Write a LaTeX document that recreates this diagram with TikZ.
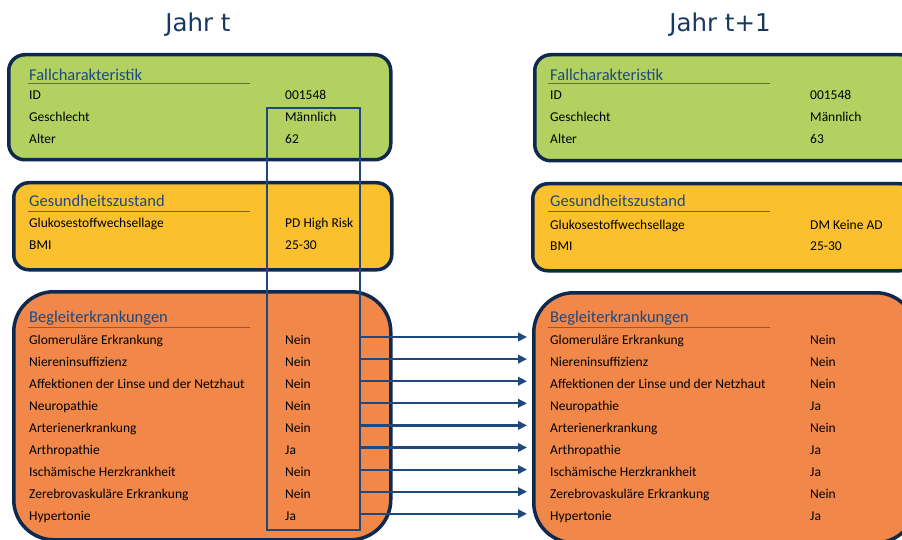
\documentclass[tikz,border=0pt]{standalone}
\usepackage{fontspec}
\setmainfont{Carlito}
\newfontfamily\titlefont{DejaVu Sans}
\usetikzlibrary{arrows.meta}

\definecolor{navy}{RGB}{14,40,78}
\definecolor{hlblue}{RGB}{31,73,125}
\definecolor{headblue}{RGB}{31,73,125}
\definecolor{titleblue}{RGB}{24,56,100}
\definecolor{fgreen}{RGB}{178,209,96}
\definecolor{fyellow}{RGB}{251,192,45}
\definecolor{forange}{RGB}{242,135,74}

\tikzset{
  panel/.style={draw=navy, line width=3.5pt, inner sep=0pt, anchor=north west},
  lbl/.style={anchor=base west, inner sep=0pt, font=\fontsize{13.5}{13.5}\selectfont},
  head/.style={anchor=base west, inner sep=0pt, text=headblue,
               font=\fontsize{16.5}{16.5}\selectfont},
  yeartitle/.style={anchor=base, inner sep=0pt, text=titleblue,
                    font=\titlefont\fontsize{24.5}{24.5}\selectfont},
  rule/.style={line width=1pt},
  arr/.style={draw=hlblue, line width=2.2pt, -{Triangle[length=9pt,width=8.5pt]}},
}

\begin{document}
\begin{tikzpicture}[x=1pt,y=-1pt]
\useasboundingbox (0,0) rectangle (902,540);
\clip (0,0) rectangle (902,540);

% year titles
\node[yeartitle] (tl) at (198,32) {Jahr t};
\node[yeartitle] (tr) at (720,32) {Jahr t+1};

% panels, year t
\node[panel, fill=fgreen, rounded corners=16pt, minimum width=382pt, minimum height=105pt] (gl) at (7,53) {};
\node[panel, fill=fyellow, rounded corners=15pt, minimum width=378pt, minimum height=87pt] (yl) at (12,181) {};
\node[panel, fill=forange, rounded corners=40pt, minimum width=377pt, minimum height=248pt] (ol) at (12,290) {};

% panels, year t+1
\node[panel, fill=fgreen, rounded corners=16pt, minimum width=382pt, minimum height=106pt] (gr) at (533,53) {};
\node[panel, fill=fyellow, rounded corners=15pt, minimum width=382pt, minimum height=87pt] (yr) at (531,182) {};
\node[panel, fill=forange, rounded corners=40pt, minimum width=382pt, minimum height=250pt] (or) at (532,291) {};

% section headings with their rules
\foreach \x/\ux in {29/28, 550/548} {
  \node[head] at (\x,81) {Fallcharakteristik};
  \draw[rule, draw=fgreen!55!black] (\ux,83.5) -- ++(222,0);
  \node[head] at (\x,207) {Gesundheitszustand};
  \draw[rule, draw=fyellow!50!black] (\ux,211.5) -- ++(222,0);
  \node[head] at (\x,322) {Begleiterkrankungen};
  \draw[rule, draw=forange!65!black] (\ux,327) -- ++(222,0);
}

% case characteristics
\foreach [count=\i from 0] \lab/\va/\vb in {ID/001548/001548, Geschlecht/Männlich/Männlich, Alter/62/63} {
  \pgfmathsetmacro\yb{100+22*\i}
  \node[lbl] (fl\i) at (29,\yb) {\lab};
  \node[lbl] (fa\i) at (285,\yb) {\va};
  \node[lbl] (fr\i) at (550,\yb) {\lab};
  \node[lbl] (fb\i) at (810,\yb) {\vb};
}

% health state
\foreach [count=\i from 0] \lab/\va/\vb in {Glukosestoffwechsellage/PD High Risk/DM Keine AD, BMI/25-30/25-30} {
  \pgfmathsetmacro\yb{228+21.5*\i}
  \node[lbl] (gl\i) at (29,\yb) {\lab};
  \node[lbl] (ga\i) at (285,\yb) {\va};
  \node[lbl] (gr\i) at (550,\yb+1.5) {\lab};
  \node[lbl] (gb\i) at (810,\yb+1.5) {\vb};
}

% comorbidities
\foreach [count=\i from 0] \lab/\va/\vb in {
  Glomeruläre Erkrankung/Nein/Nein,
  Niereninsuffizienz/Nein/Nein,
  Affektionen der Linse und der Netzhaut/Nein/Nein,
  Neuropathie/Nein/Ja,
  Arterienerkrankung/Nein/Nein,
  Arthropathie/Ja/Ja,
  Ischämische Herzkrankheit/Nein/Ja,
  Zerebrovaskuläre Erkrankung/Nein/Nein,
  Hypertonie/Ja/Ja} {
  \pgfmathsetmacro\yb{344+22.1*\i}
  \node[lbl] (bl\i) at (29,\yb) {\lab};
  \node[lbl] (ba\i) at (285,\yb) {\va};
  \node[lbl] (br\i) at (550,\yb) {\lab};
  \node[lbl] (bb\i) at (810,\yb) {\vb};
}

% highlighted value column
\node[draw=hlblue, line width=2.2pt, inner sep=0pt, anchor=north west,
      minimum width=93pt, minimum height=422pt] (hl) at (266,107) {};

% carry-over arrows
\foreach \i in {0,...,8} {
  \pgfmathsetmacro\ya{337+22.1*\i}
  \coordinate (e\i) at (527,\ya);
  \draw[arr] (hl.east |- e\i) -- (e\i);
}
\end{tikzpicture}
\end{document}
